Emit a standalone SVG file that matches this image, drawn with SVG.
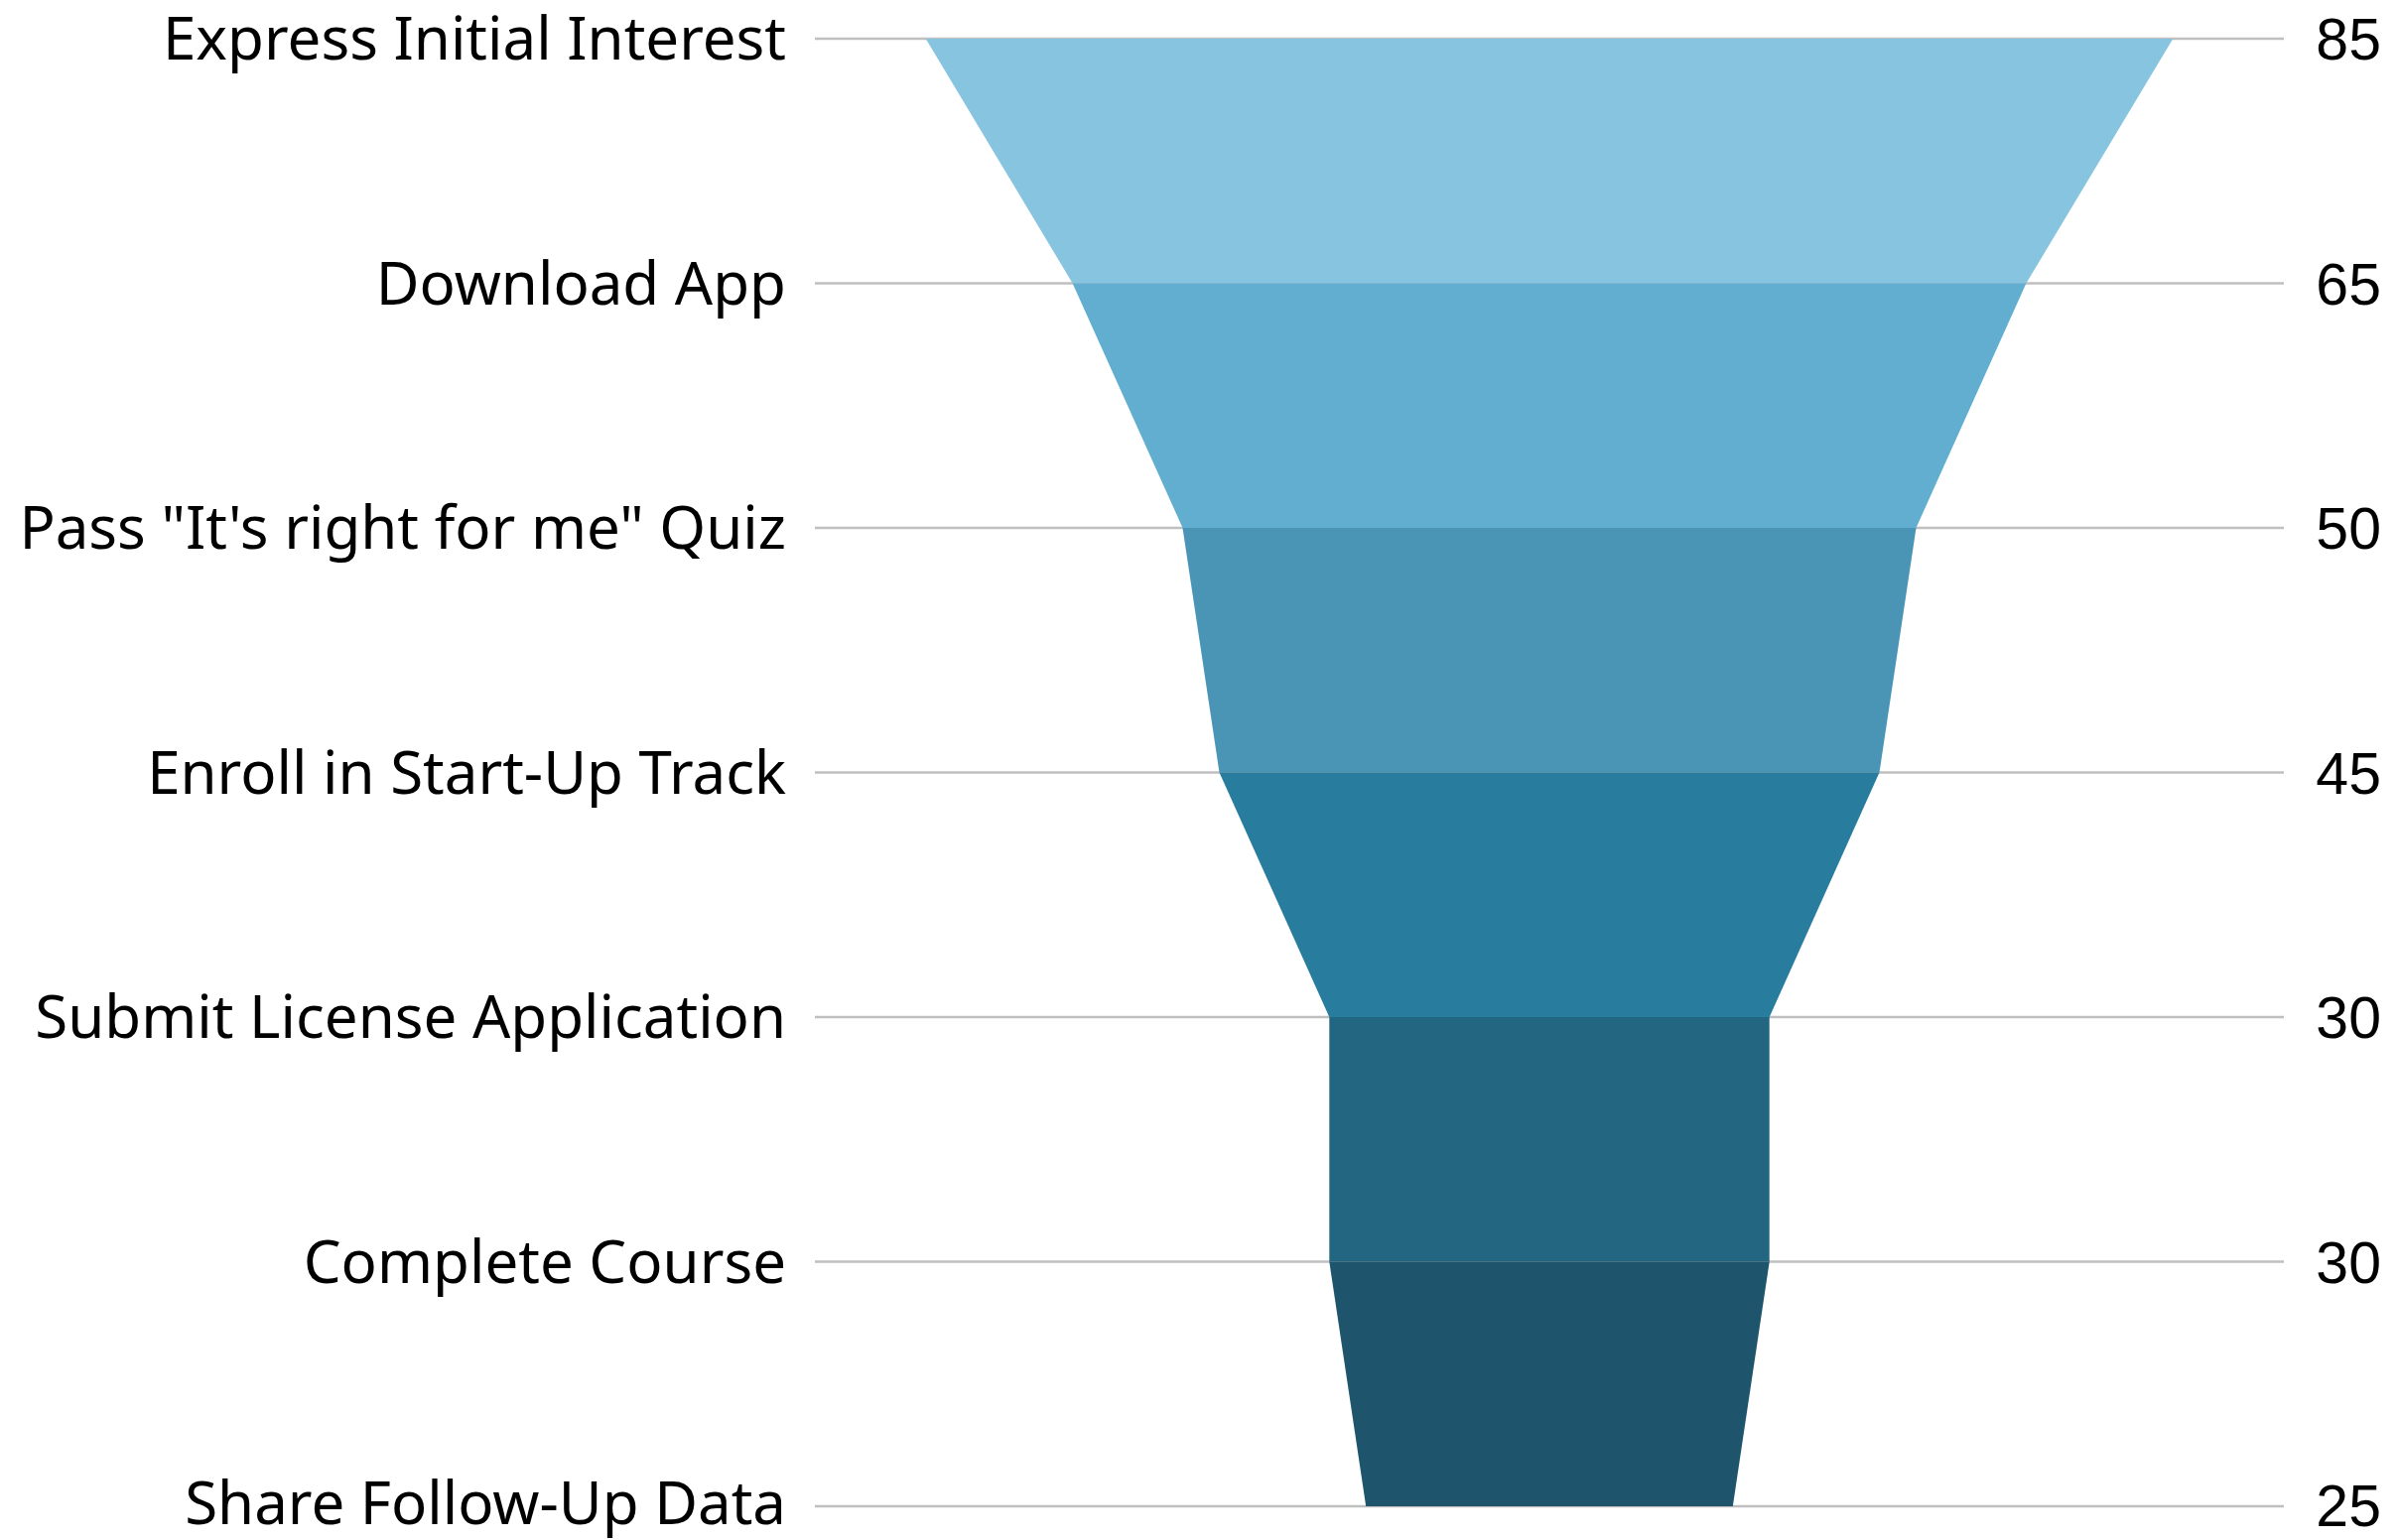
<svg xmlns="http://www.w3.org/2000/svg" width="2416" height="1552" viewBox="0 0 2416 1552">
<style>
.grid{stroke:#bfbfbf;stroke-width:2.5;fill:none}
.lbl{font-family:"Noto Sans","Liberation Sans",sans-serif;font-size:60px;fill:#000;text-anchor:end}
.val{font-family:"Liberation Sans",Arial,sans-serif;font-size:59px;fill:#000;text-anchor:end}
</style>
<rect width="2416" height="1552" fill="#fff"/>
<g id="gridlines">
<line class="grid" x1="821" y1="39" x2="2301" y2="39"/>
<line class="grid" x1="821" y1="285.5" x2="2301" y2="285.5"/>
<line class="grid" x1="821" y1="532" x2="2301" y2="532"/>
<line class="grid" x1="821" y1="778.5" x2="2301" y2="778.5"/>
<line class="grid" x1="821" y1="1025" x2="2301" y2="1025"/>
<line class="grid" x1="821" y1="1271.5" x2="2301" y2="1271.5"/>
<line class="grid" x1="821" y1="1518" x2="2301" y2="1518"/>
</g>
<g id="funnel">
<polygon id="seg1" fill="#87c4e0" points="932.7,39 2189.3,39 2041.4,285.5 1080.6,285.5"/>
<polygon id="seg2" fill="#62aed0" points="1080.6,285.5 2041.4,285.5 1930.5,532 1191.5,532"/>
<polygon id="seg3" fill="#4a94b6" points="1191.5,532 1930.5,532 1893.5,778.5 1228.5,778.5"/>
<polygon id="seg4" fill="#287c9e" points="1228.5,778.5 1893.5,778.5 1782.7,1025 1339.3,1025"/>
<polygon id="seg5" fill="#226682" points="1339.3,1025 1782.7,1025 1782.7,1271.5 1339.3,1271.5"/>
<polygon id="seg6" fill="#1e556d" points="1339.3,1271.5 1782.7,1271.5 1745.8,1518 1376.2,1518"/>
</g>
<g id="labels">
<text class="lbl" x="792" y="60">Express Initial Interest</text>
<text class="lbl" x="792" y="306.5">Download App</text>
<text class="lbl" x="792" y="553">Pass "It's right for me" Quiz</text>
<text class="lbl" x="792" y="799.5">Enroll in Start-Up Track</text>
<text class="lbl" x="792" y="1046">Submit License Application</text>
<text class="lbl" x="792" y="1292.5">Complete Course</text>
<text class="lbl" x="792" y="1536">Share Follow-Up Data</text>
</g>
<g id="values">
<text class="val" x="2399" y="60">85</text>
<text class="val" x="2399" y="306.5">65</text>
<text class="val" x="2399" y="553">50</text>
<text class="val" x="2399" y="799.5">45</text>
<text class="val" x="2399" y="1046">30</text>
<text class="val" x="2399" y="1292.5">30</text>
<text class="val" x="2399" y="1538">25</text>
</g>
</svg>
